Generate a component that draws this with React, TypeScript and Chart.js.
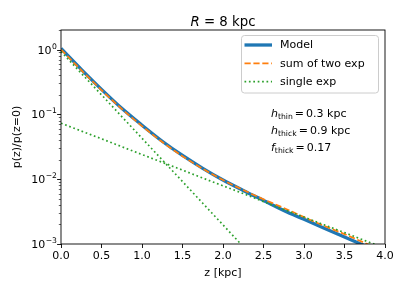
import React, { useEffect, useRef } from "react";
import { Chart, registerables } from "chart.js";
Chart.register(...registerables);

// ---- data ----
const zGrid = [0, 0.25, 0.5, 0.75, 1.0, 1.25, 1.5, 1.75, 2.0, 2.25, 2.5, 2.75, 3.0, 3.25, 3.5, 3.75, 4.0];
const modelValues = [1.04, 0.495, 0.243, 0.124, 0.068, 0.0385, 0.0232, 0.0147, 0.0097, 0.0067, 0.0047, 0.0033, 0.0024, 0.00175, 0.00128, 0.00094, 0.0007];
const sumValues = [1.0, 0.48, 0.237, 0.121, 0.066, 0.0375, 0.0226, 0.0145, 0.0097, 0.0068, 0.0049, 0.0036, 0.0026, 0.0019, 0.00142, 0.00104, 0.00077];
const thinZ = [0, 0.25, 0.5, 0.75, 1.0, 1.25, 1.5, 1.75, 2.0, 2.25];
const thinValues = [0.93, 0.43, 0.2, 0.0924, 0.0428, 0.0198, 0.0092, 0.00425, 0.00197, 0.00091];
const thickValues = [0.073, 0.0553, 0.042, 0.0317, 0.024, 0.0182, 0.0138, 0.0104, 0.0079, 0.006, 0.0045, 0.0034, 0.0026, 0.00197, 0.0015, 0.00113, 0.00086];

const xTickValues = [0, 0.5, 1.0, 1.5, 2.0, 2.5, 3.0, 3.5, 4.0];
const yMajorTicks = [0.001, 0.01, 0.1, 1];
const yTickExponents = ["\u22123", "\u22122", "\u22121", "0"];
const legendLabels = ["Model", "sum of two exp", "single exp"];
const annotationSymbols = ["h", "h", "f"];
const annotationSubs = ["thin", "thick", "thick"];
const annotationValues = ["0.3 kpc", "0.9 kpc", "0.17"];
const titleItalic = "R";
const titleRest = " = 8 kpc";
const xTitle = "z [kpc]";
const yTitle = "p(z)/p(z=0)";

const FONT = "'DejaVu Sans', sans-serif";
const BLUE = "#1f77b4";
const ORANGE = "#ff7f0e";
const GREEN = "#2ca02c";

const overlay = {
  id: "overlay",
  afterDraw(chart: any) {
    const ctx: CanvasRenderingContext2D = chart.ctx;
    const ca = chart.chartArea;
    const ys = chart.scales.y;
    ctx.save();
    // spines
    ctx.strokeStyle = "#000";
    ctx.lineWidth = 0.9;
    ctx.strokeRect(ca.left, ca.top, ca.right - ca.left, ca.bottom - ca.top);

    // y ticks (major + minor)
    for (let d = -3; d <= 0; d++) {
      for (let m = 1; m <= 9; m++) {
        const v = m * Math.pow(10, d);
        if (v > ys.max * 1.0001 || v < ys.min * 0.9999) continue;
        const py = Math.round(ys.getPixelForValue(v)) + 0.5;
        const len = m === 1 ? 3.9 : 2.2;
        ctx.lineWidth = m === 1 ? 0.9 : 0.6;
        ctx.beginPath();
        ctx.moveTo(ca.left, py);
        ctx.lineTo(ca.left - len, py);
        ctx.stroke();
      }
    }
    // y tick labels
    ctx.fillStyle = "#000";
    ctx.textBaseline = "alphabetic";
    yMajorTicks.forEach((v, i) => {
      const py = ys.getPixelForValue(v);
      const right = ca.left - 4;
      ctx.font = `7.7px ${FONT}`;
      const ew = ctx.measureText(yTickExponents[i]).width;
      ctx.font = `11px ${FONT}`;
      const bw = ctx.measureText("10").width;
      const x0 = right - ew - bw - 0.5;
      ctx.fillText("10", x0, py + 4);
      ctx.font = `7.7px ${FONT}`;
      ctx.fillText(yTickExponents[i], x0 + bw + 0.5, py - 1);
    });

    // title
    ctx.font = `italic 13.3px ${FONT}`;
    const tw1 = ctx.measureText(titleItalic).width;
    ctx.font = `13.3px ${FONT}`;
    const tw2 = ctx.measureText(titleRest).width;
    const cx = (ca.left + ca.right) / 2;
    const tx = cx - (tw1 + tw2) / 2;
    ctx.textBaseline = "alphabetic";
    ctx.font = `italic 13.3px ${FONT}`;
    ctx.fillText(titleItalic, tx, 26);
    ctx.font = `13.3px ${FONT}`;
    ctx.fillText(titleRest, tx + tw1, 26);

    // axis titles
    ctx.font = `11px ${FONT}`;
    ctx.textAlign = "center";
    ctx.textBaseline = "middle";
    ctx.fillText(xTitle, cx, 273);
    ctx.save();
    ctx.translate(17, (ca.top + ca.bottom) / 2);
    ctx.rotate(-Math.PI / 2);
    ctx.fillText(yTitle, 0, 0);
    ctx.restore();
    ctx.textAlign = "left";

    // legend
    const lx0 = 241.5, ly0 = 35.5, lw = 137, lh = 57.5, r = 3;
    ctx.beginPath();
    ctx.moveTo(lx0 + r, ly0);
    ctx.lineTo(lx0 + lw - r, ly0);
    ctx.quadraticCurveTo(lx0 + lw, ly0, lx0 + lw, ly0 + r);
    ctx.lineTo(lx0 + lw, ly0 + lh - r);
    ctx.quadraticCurveTo(lx0 + lw, ly0 + lh, lx0 + lw - r, ly0 + lh);
    ctx.lineTo(lx0 + r, ly0 + lh);
    ctx.quadraticCurveTo(lx0, ly0 + lh, lx0, ly0 + lh - r);
    ctx.lineTo(lx0, ly0 + r);
    ctx.quadraticCurveTo(lx0, ly0, lx0 + r, ly0);
    ctx.closePath();
    ctx.fillStyle = "rgba(255,255,255,0.8)";
    ctx.fill();
    ctx.strokeStyle = "#cccccc";
    ctx.lineWidth = 1;
    ctx.stroke();
    const ds = chart.data.datasets;
    legendLabels.forEach((lab, i) => {
      const d = ds[i];
      const yy = 45 + i * 18.3;
      ctx.save();
      ctx.strokeStyle = d.borderColor;
      ctx.lineWidth = d.borderWidth;
      ctx.setLineDash(d.borderDash || []);
      ctx.beginPath();
      ctx.moveTo(244.5, yy);
      ctx.lineTo(272, yy);
      ctx.stroke();
      ctx.restore();
      ctx.fillStyle = "#000";
      ctx.font = `11px ${FONT}`;
      ctx.textBaseline = "middle";
      ctx.fillText(lab, 280, yy + 0.5);
    });

    // annotation
    ctx.fillStyle = "#000";
    ctx.textBaseline = "alphabetic";
    const baselines = [117, 134, 151];
    annotationSymbols.forEach((sym, i) => {
      let x = 271;
      const by = baselines[i] - 0.5;
      ctx.font = `italic 11px ${FONT}`;
      ctx.fillText(sym, x, by);
      x += ctx.measureText(sym).width;
      ctx.font = `7.7px ${FONT}`;
      ctx.fillText(annotationSubs[i], x, by + 2.5);
      x += ctx.measureText(annotationSubs[i]).width + 2;
      ctx.font = `11px ${FONT}`;
      ctx.fillText("=", x, by);
      x += ctx.measureText("=").width + 2;
      ctx.fillText(annotationValues[i], x, by);
    });
    ctx.restore();
  },
};

export default function App() {
  const ref = useRef<HTMLCanvasElement>(null);
  useEffect(() => {
    document.body.style.margin = "0";
    const canvas = ref.current!;
    const chart = new Chart(canvas, {
      type: "line",
      data: {
        datasets: [
          {
            label: legendLabels[0],
            data: zGrid.map((z, i) => ({ x: z, y: modelValues[i] })),
            borderColor: BLUE,
            borderWidth: 3.3,
            pointRadius: 0,
            cubicInterpolationMode: "monotone",
            order: 4,
          },
          {
            label: legendLabels[1],
            data: zGrid.map((z, i) => ({ x: z, y: sumValues[i] })),
            borderColor: ORANGE,
            borderWidth: 1.7,
            borderDash: [6.2, 2.7],
            pointRadius: 0,
            cubicInterpolationMode: "monotone",
            order: 3,
          },
          {
            label: legendLabels[2],
            data: thinZ.map((z, i) => ({ x: z, y: thinValues[i] })),
            borderColor: GREEN,
            borderWidth: 1.7,
            borderDash: [1.7, 2.7],
            pointRadius: 0,
            order: 2,
          },
          {
            label: legendLabels[2] + " (thick)",
            data: zGrid.map((z, i) => ({ x: z, y: thickValues[i] })),
            borderColor: GREEN,
            borderWidth: 1.7,
            borderDash: [1.7, 2.7],
            pointRadius: 0,
            order: 1,
          },
        ],
      } as any,
      options: {
        animation: false,
        responsive: false,
        layout: { padding: { top: 30, right: 22, left: 0, bottom: 0 } },
        plugins: { legend: { display: false }, tooltip: { enabled: false }, title: { display: false } },
        scales: {
          x: {
            type: "linear",
            min: 0,
            max: 4,
            afterBuildTicks: (s: any) => {
              s.ticks = xTickValues.map((v) => ({ value: v }));
            },
            afterFit: (s: any) => {
              s.height = 47;
            },
            ticks: {
              autoSkip: false,
              maxRotation: 0,
              padding: 2,
              color: "#000",
              font: { family: FONT, size: 11 },
              callback: (v: any) => Number(v).toFixed(1),
            },
            grid: { drawOnChartArea: false, drawTicks: true, tickLength: 4, tickColor: "#000", tickWidth: 0.9 },
            border: { display: false },
          },
          y: {
            type: "logarithmic",
            min: 0.001,
            max: 2,
            afterFit: (s: any) => {
              s.width = 61;
            },
            ticks: { display: false },
            grid: { display: false },
            border: { display: false },
          },
        },
      } as any,
      plugins: [overlay],
    });
    return () => chart.destroy();
  }, []);
  return <canvas ref={ref} width={407} height={291} style={{ display: "block" }} />;
}
